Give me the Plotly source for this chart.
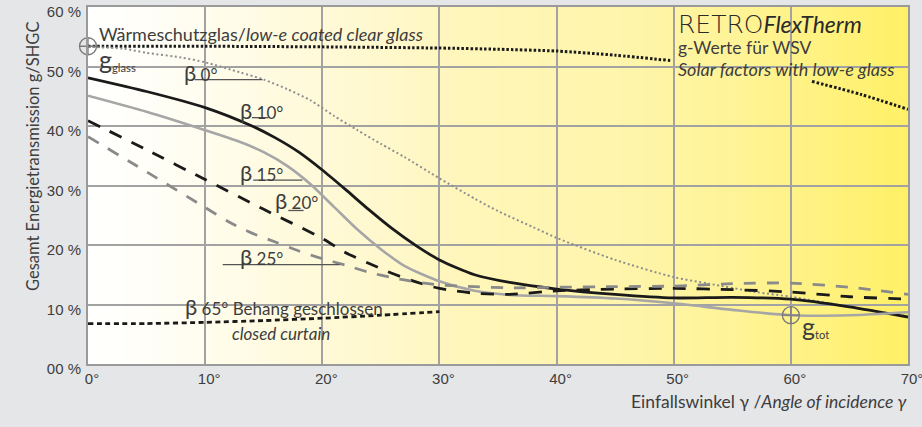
import plotly.graph_objects as go

# ---------------- data ----------------
ang_glass = [0, 10, 20, 30, 35, 40, 45, 49.7, None, 61.8, 66, 70]
g_glass_curve = [53.4, 53.4, 53.3, 53.1, 52.9, 52.6, 51.9, 51.0, None, 47.5, 45.3, 42.8]

ang_b0 = [0, 3, 5, 8, 10, 13, 15, 17, 19, 21, 23, 25, 27, 30, 33, 35, 38, 40, 45, 50, 53, 57, 60, 65, 70]
g_b0 = [53.3, 53.0, 52.3, 51.5, 50.7, 49.0, 47.8, 46.2, 44.3, 41.7, 39.3, 37.0, 34.8, 31.2, 27.8, 25.7,
        23.0, 21.2, 17.5, 14.6, 13.5, 12.1, 11.3, 9.6, 8.0]

ang_b10 = [0, 5, 10, 14, 16, 18, 20, 22, 24, 26, 28, 30, 33, 36, 40, 45, 50, 55, 60, 65, 70]
g_b10 = [48.1, 45.8, 43.1, 40.0, 38.0, 35.6, 32.6, 29.3, 25.9, 22.7, 19.9, 17.5, 15.0, 13.7, 12.6, 11.7,
         11.1, 11.2, 10.9, 9.6, 7.9]

ang_b15 = [0, 5, 10, 13, 15, 17, 19, 21, 23, 25, 27, 30, 33, 36, 40, 45, 50, 55, 60, 65, 70]
g_b15 = [45.1, 42.4, 39.3, 37.3, 35.6, 33.3, 30.2, 26.4, 22.6, 19.3, 16.5, 13.9, 12.3, 11.6, 11.4, 11.0,
         10.2, 9.1, 8.2, 8.2, 8.7]

ang_b20 = [0, 5, 10, 15, 20, 22, 24, 26, 28, 30, 33, 36, 40, 45, 50, 55, 60, 65, 70]
g_b20 = [40.9, 36.0, 31.0, 26.0, 21.1, 18.7, 16.9, 15.2, 13.8, 12.7, 11.9, 11.7, 12.3, 12.6, 12.7, 12.5,
         12.1, 11.3, 10.9]

ang_b25 = [0, 5, 10, 12, 14, 16, 18, 20, 22, 24, 26, 28, 30, 33, 36, 40, 45, 50, 55, 60, 65, 70]
g_b25 = [38.2, 32.3, 26.3, 23.9, 22.0, 20.5, 19.0, 17.7, 16.6, 15.4, 14.5, 13.8, 13.3, 13.0, 12.8, 12.9,
         13.0, 13.1, 13.5, 13.6, 12.9, 11.7]

ang_b65 = [0, 5, 10, 15, 20, 25, 30]
g_b65 = [6.8, 6.8, 7.0, 7.3, 7.7, 8.2, 8.8]

ref_angles = [0, 60]
ref_values = [53.4, 8.2]

x_ticks = [0, 10, 20, 30, 40, 50, 60, 70]
x_tick_labels = ["0°", "10°", "20°", "30°", "40°", "50°", "60°", "70°"]
y_ticks = [0, 10, 20, 30, 40, 50, 60]
y_tick_labels = ["00 %", "10 %", "20 %", "30 %", "40 %", "50 %", "60 %"]

# ---------------- styling ----------------
TXT = "#3d3d3d"
FONT = "Lato, 'DejaVu Sans', sans-serif"
TICKFONT = "'Liberation Sans', Arial, sans-serif"

series = [
    (ang_glass, g_glass_curve, dict(color="#1a1a1a", width=3, dash="2.5px,2px")),
    (ang_b0, g_b0, dict(color="#8e8e8e", width=2, dash="2px,2.6px")),
    (ang_b10, g_b10, dict(color="#1a1a1a", width=2.8)),
    (ang_b15, g_b15, dict(color="#a6a6a6", width=2.6)),
    (ang_b20, g_b20, dict(color="#1a1a1a", width=2.8, dash="13px,11px")),
    (ang_b25, g_b25, dict(color="#8a8a8a", width=2.8, dash="12px,11px")),
    (ang_b65, g_b65, dict(color="#1a1a1a", width=2.8, dash="5px,3.5px")),
]

fig = go.Figure()
for xs, ys, ln in series:
    fig.add_trace(go.Scatter(x=xs, y=ys, mode="lines", line=dict(shape="spline", smoothing=0.7, **ln),
                             connectgaps=False, hoverinfo="skip"))

fig.add_trace(go.Scatter(x=ref_angles, y=ref_values, mode="markers",
                         marker=dict(symbol="circle-cross-open", size=17, color="#7a7a7a",
                                     line=dict(width=1.3, color="#7a7a7a")),
                         hoverinfo="skip", cliponaxis=False))

# ---------------- background gradient (white -> yellow) ----------------
stops = [(0, (255, 255, 255)), (6, (255, 254, 246)), (15, (255, 251, 226)), (25, (255, 248, 205)),
         (32, (255, 246, 186)), (45, (255, 245, 172)), (55, (255, 243, 152)), (62, (255, 242, 130)),
         (70, (255, 240, 102))]


def grad(v):
    for (a, ca), (b, cb) in zip(stops[:-1], stops[1:]):
        if a <= v <= b:
            t = (v - a) / (b - a)
            return "rgb(%d,%d,%d)" % tuple(round(ca[i] + (cb[i] - ca[i]) * t) for i in range(3))
    return "rgb(255,240,102)"


shapes = []
n = 140
for i in range(n):
    x0 = 70 * i / n
    x1 = 70 * (i + 1) / n
    shapes.append(dict(type="rect", xref="x", yref="paper", x0=x0, x1=x1 + 0.05, y0=0, y1=1,
                       fillcolor=grad((x0 + x1) / 2), line=dict(width=0), layer="below"))

# ---------------- labels ----------------
B = "<span style='font-size:22px'>β</span> "
labels = [
    # text, x, y, size, underline(x0,x1,y)
    (B + "0°", 8.0, 49.0, 17, (9.1, 14.9, 47.8)),
    (B + "10°", 12.8, 42.6, 17, (14.0, 15.4, 41.4)),
    (B + "15°", 12.8, 32.2, 17, (14.1, 18.3, 30.9)),
    (B + "20°", 15.8, 27.5, 17, (17.1, 18.4, 25.8)),
    (B + "25°", 12.8, 18.1, 17, (11.5, 21.5, 16.7)),
    (B + "65° Behang geschlossen", 8.1, 9.6, 17, None),
    ("<i>closed curtain</i>", 12.1, 5.2, 17, None),
    ("Wärmeschutzglas/<i>low-e coated clear glass</i>", 0.8, 55.5, 18, None),
    ("<span style='font-size:25px'>g</span><sub>glass</sub>", 0.8, 51.2, 16, None),
    ("<span style='font-size:25px'>g</span><sub>tot</sub>", 60.8, 6.4, 16, None),
]

annotations = []
for text, x, y, size, ul in labels:
    annotations.append(dict(text=text, x=x, y=y, xref="x", yref="y", xanchor="left", yanchor="middle",
                            showarrow=False, font=dict(family=FONT, size=size, color=TXT)))
    if ul:
        shapes.append(dict(type="line", xref="x", yref="y", x0=ul[0], x1=ul[1], y0=ul[2], y1=ul[2],
                           line=dict(color="#555555", width=1.3), layer="above"))

brand = ("<span style='font-family:\"DejaVu Sans\";font-weight:200;font-size:25px;fill:#2a2a2a'>RETRO</span>"
         "<span style='font-size:23px;fill:#2a2a2a'><i>FlexTherm</i></span><br>"
         "<span style='font-size:17.5px'>g-Werte für WSV</span><br>"
         "<span style='font-size:18px'><i>Solar factors with low-e glass</i></span>")
annotations.append(dict(text=brand, x=50.2, y=53.6, xref="x", yref="y", xanchor="left", yanchor="middle",
                        align="left", showarrow=False, font=dict(family=FONT, size=16.5, color=TXT)))

annotations.append(dict(text="Gesamt Energietransmission g/SHGC", textangle=-90,
                        x=-0.067, y=0.58, xref="paper", yref="paper", xanchor="center", yanchor="middle",
                        showarrow=False, font=dict(family=FONT, size=16.5, color=TXT)))
annotations.append(dict(text="Einfallswinkel γ /<i>Angle of incidence γ</i>",
                        x=1.0, y=-0.106, xref="paper", yref="paper", xanchor="right", yanchor="middle",
                        showarrow=False, font=dict(family=FONT, size=17.5, color=TXT)))

fig.update_layout(
    width=922, height=427,
    margin=dict(l=88, r=14, t=7, b=63, autoexpand=False),
    paper_bgcolor="#e5e6e8",
    plot_bgcolor="#ffffff",
    showlegend=False,
    shapes=shapes,
    annotations=annotations,
)
fig.update_xaxes(range=[0, 70], tickvals=x_ticks, ticktext=x_tick_labels, showgrid=True,
                 gridcolor="#a2a2a2", gridwidth=1.5, zeroline=False, showline=True, linecolor="#9a9a9a",
                 linewidth=2, mirror=True, ticks="", ticklabelshift=4, automargin=False,
                 ticklabeloverflow="allow",
                 tickfont=dict(family=TICKFONT, size=15, color=TXT))
fig.update_yaxes(range=[0, 60], tickvals=y_ticks, ticktext=y_tick_labels, showgrid=True,
                 gridcolor="#a2a2a2", gridwidth=1.5, zeroline=False, showline=True, linecolor="#9a9a9a",
                 linewidth=2, mirror=True, ticks="", ticklabelstandoff=2, ticklabelshift=5, automargin=False,
                 ticklabeloverflow="allow",
                 tickfont=dict(family=TICKFONT, size=15, color=TXT))

fig.write_html("out.html", config={"displayModeBar": False},
               post_script="document.body.style.margin='0';document.body.style.overflow='hidden';")
